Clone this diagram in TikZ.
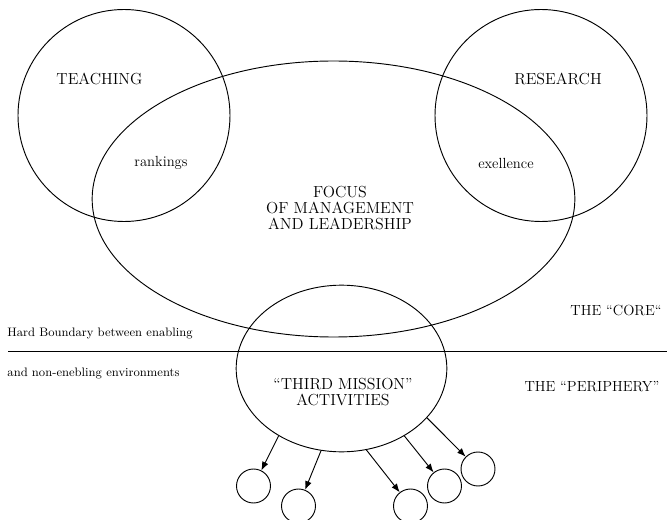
\documentclass[tikz,border=0pt]{standalone}
\usepackage{tikz}
\usetikzlibrary{shapes,arrows.meta}
\usetikzlibrary{positioning}

\begin{document}
\begin{tikzpicture}[x=0.75pt,y=-0.75pt,>={Latex[length=6.5pt,width=5pt]},line width=0.7pt,
  every node/.style={font=\fontsize{11}{12}\selectfont,align=center},
  big/.style={font=\fontsize{12}{12}\selectfont},
  ring/.style={draw,ellipse,inner sep=0pt},
  dot/.style={draw,circle,inner sep=0pt,minimum size=25.5pt},
  side/.style={font=\fontsize{9.2}{11}\selectfont,inner sep=0pt}]
\path[use as bounding box] (0,0) rectangle (667,520);
\path node[ring,minimum size=159pt] (teach) at (124,115.5) {};
\path node[ring,minimum size=159pt] (res) at (541,115.5) {};
\path node[ring,minimum width=362pt,minimum height=207pt] (focus) at (333.5,199) {};
\path node[ring,minimum width=158pt,minimum height=125pt] (tm) at (341.5,368.5) {};
\path node[big] at (99.5,79) {TEACHING};
\path node[big] at (558,79) {RESEARCH};
\path node at (161,163) {rankings};
\path node at (506,163) {exellence};
\path node[big] at (340,208) {FOCUS\\OF MANAGEMENT\\AND LEADERSHIP};
\path node[big] at (343,392) {“THIRD MISSION”\\ACTIVITIES};
\path node at (616,310) {THE “CORE“};
\path node at (592,387) {THE “PERIPHERY”};
%boundary
\coordinate (bl) at (8,351);
\coordinate (br) at (667,351);
\path[draw] (bl) -- (br);
\path node[side,anchor=west] (hb) at (7,334) {Hard Boundary between enabling};
\path node[side,anchor=west] (ne) at (7,374) {and non-enebling environments};
%small circles
\path node[dot] (c1) at (253.5,486) {};
\path node[dot] (c2) at (298.5,506) {};
\path node[dot] (c3) at (410.5,506) {};
\path node[dot] (c4) at (444.5,486) {};
\path node[dot] (c5) at (478,469) {};
\path[->] (tm.227) edge (c1);
\path[->] (tm.256) edge (c2);
\path[->] (tm.287) edge (c3);
\path[->] (tm.313) edge (c4);
\path[->] (tm.330) edge (c5);
\end{tikzpicture}
\end{document}
